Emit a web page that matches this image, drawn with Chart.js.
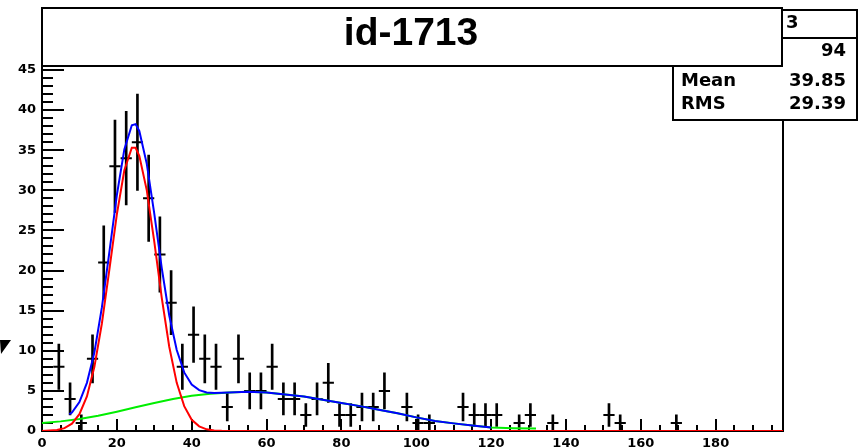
<!DOCTYPE html>
<html>
<head>
<meta charset="utf-8">
<title>id-1713</title>
<script src="https://cdn.jsdelivr.net/npm/chart.js@4.4.1/dist/chart.umd.min.js"></script>
<style>
    html, body { margin: 0; padding: 0; background: #fff; }
    #wrap { position: relative; width: 863px; height: 448px; }
</style>
</head>
<body>
<div id="wrap"><canvas id="histChart" width="863" height="448"></canvas></div>
<script>
// histogram: bin centres (bins are 3 wide) and counts, empty bins left out
const binCenters = [4.5, 7.5, 10.5, 13.5, 16.5, 19.5, 22.5, 25.5, 28.5, 31.5, 34.5, 37.5, 40.5,
    43.5, 46.5, 49.5, 52.5, 55.5, 58.5, 61.5, 64.5, 67.5, 70.5, 73.5, 76.5, 79.5, 82.5, 85.5,
    88.5, 91.5, 97.5, 100.5, 103.5, 112.5, 115.5, 118.5, 121.5, 127.5, 130.5, 136.5, 151.5,
    154.5, 169.5];
const binCounts = [8, 4, 1, 9, 21, 33, 34, 36, 29, 22, 16, 8, 12,
    9, 8, 3, 9, 5, 5, 8, 4, 4, 2, 4, 6, 2, 2, 3,
    3, 5, 3, 1, 1, 3, 2, 2, 2, 1, 2, 1, 2,
    1, 1];
const binWidth = 3;

// fitted curves
const gausX = [0, 4, 6, 8, 10, 12, 14, 16, 18, 20, 22, 24, 25, 26, 28, 30, 32, 34, 36, 38, 40, 42, 44, 46, 48, 198];
const gausY = [0.01, 0.12, 0.36, 0.91, 2.1, 4.3, 8.0, 13.4, 20.1, 27.0, 32.5, 35.3, 35.3, 34.3, 30.0, 23.6, 16.6, 10.5, 6.0, 3.1, 1.4, 0.58, 0.21, 0.07, 0.02, 0];

const bkgX = [0, 5, 10, 15, 20, 25, 30, 35, 40, 45, 50, 55, 60, 65, 70, 75, 80, 85, 90, 95, 100, 105, 110, 115, 120, 126, 132];
const bkgY = [1.0, 1.2, 1.5, 1.9, 2.4, 2.95, 3.5, 4.0, 4.4, 4.65, 4.8, 4.9, 4.8, 4.55, 4.3, 3.9, 3.5, 3.1, 2.65, 2.2, 1.7, 1.25, 0.95, 0.7, 0.45, 0.35, 0.3];

const totalX = [7.3, 8, 10, 12, 14, 16, 18, 20, 22, 24, 25, 26, 28, 30, 32, 34, 36, 38, 40, 42, 44, 46,
    50, 55, 60, 65, 70, 75, 80, 85, 90, 95, 100, 105, 110, 115, 120];
const totalY = [2.1, 2.3, 3.6, 6.0, 9.8, 15.4, 22.3, 29.4, 35.1, 38.1, 38.25, 37.4, 33.3, 27.1, 20.3, 14.4, 10.1, 7.3, 5.8, 5.1, 4.8, 4.75,
    4.8, 4.9, 4.8, 4.55, 4.3, 3.9, 3.5, 3.1, 2.65, 2.2, 1.7, 1.25, 0.95, 0.7, 0.45];

// axis labels
const xTickValues = [0, 20, 40, 60, 80, 100, 120, 140, 160, 180];
const yTickValues = [0, 5, 10, 15, 20, 25, 30, 35, 40, 45];

// title and stats box text
const histTitle = 'id-1713';
const statsName = '3';
const statsRows = [['', '94'], ['Mean', '39.85'], ['RMS', '29.39']];

function toPoints(xs, ys) {
    return xs.map((x, i) => ({ x: x, y: ys[i] }));
}

// frame and inward ticks, like the ROOT canvas
const rootFrame = {
    id: 'rootFrame',
    beforeDatasetsDraw(chart) {
        const { ctx, chartArea: a, scales: { x, y } } = chart;
        ctx.save();
        ctx.strokeStyle = '#000';
        ctx.lineWidth = 2;
        ctx.strokeRect(a.left, a.top, a.right - a.left, a.bottom - a.top);
        ctx.beginPath();
        for (let v = 0; v <= y.max; v++) {
            const py = Math.round(y.getPixelForValue(v));
            const len = v % 5 === 0 ? 22 : 11;
            ctx.moveTo(a.left, py);
            ctx.lineTo(a.left + len, py);
        }
        for (let v = 0; v < x.max; v += 5) {
            const px = Math.round(x.getPixelForValue(v));
            const len = v % 20 === 0 ? 12 : 6;
            ctx.moveTo(px, a.bottom);
            ctx.lineTo(px, a.bottom - len);
        }
        ctx.stroke();
        ctx.restore();
    },
    afterDraw(chart) {
        const ctx = chart.ctx;
        ctx.save();
        ctx.strokeStyle = '#000';
        ctx.lineWidth = 2;

        // stats box
        ctx.fillStyle = '#fff';
        ctx.fillRect(673, 10, 184, 110);
        ctx.strokeRect(673, 10, 184, 110);
        ctx.beginPath();
        ctx.moveTo(673, 38);
        ctx.lineTo(857, 38);
        ctx.stroke();
        ctx.fillStyle = '#000';
        ctx.font = 'bold 18px "DejaVu Sans"';
        ctx.textBaseline = 'alphabetic';
        ctx.textAlign = 'left';
        ctx.fillText(statsName, 786, 28);
        const rowY = [56, 86, 109];
        statsRows.forEach((row, i) => {
            ctx.textAlign = 'left';
            ctx.fillText(row[0], 681, rowY[i]);
            ctx.textAlign = 'right';
            ctx.fillText(row[1], 846, rowY[i]);
        });

        // title box
        ctx.fillStyle = '#fff';
        ctx.fillRect(42, 8, 740, 58);
        ctx.strokeRect(42, 8, 740, 58);
        ctx.fillStyle = '#000';
        ctx.font = 'bold 39px "Liberation Sans"';
        ctx.textAlign = 'center';
        ctx.fillText(histTitle, 411, 45);

        // stray marker at the left edge
        ctx.beginPath();
        ctx.moveTo(0, 340);
        ctx.lineTo(11, 340);
        ctx.lineTo(1, 354);
        ctx.closePath();
        ctx.fill();
        ctx.restore();
    }
};

const tickFont = { family: 'DejaVu Sans', weight: 'bold', size: 13 };

new Chart(document.getElementById('histChart'), {
    type: 'scatter',
    data: {
        datasets: [
            {
                type: 'line',
                label: 'gaus',
                data: toPoints(gausX, gausY),
                borderColor: '#ff0000',
                borderWidth: 2,
                pointRadius: 0,
                tension: 0
            },
            {
                type: 'line',
                label: 'total',
                data: toPoints(totalX, totalY),
                borderColor: '#0000ff',
                borderWidth: 2,
                pointRadius: 0,
                tension: 0
            },
            {
                type: 'line',
                label: 'background',
                data: toPoints(bkgX, bkgY),
                borderColor: '#00ee00',
                borderWidth: 2,
                pointRadius: 0,
                tension: 0
            },
            {
                label: 'bin width',
                data: toPoints(binCenters, binCounts),
                pointStyle: 'line',
                borderColor: '#000',
                borderWidth: 2,
                radius: function(c) {
                    const sx = c.chart.scales.x;
                    return (sx.getPixelForValue(binWidth) - sx.getPixelForValue(0)) / 2;
                }
            },
            {
                type: 'bar',
                label: 'errors',
                data: binCenters.map((c, i) => {
                    const e = Math.sqrt(binCounts[i]);
                    return { x: c, y: [binCounts[i] - e, binCounts[i] + e] };
                }),
                backgroundColor: '#000',
                borderWidth: 0,
                barThickness: 2
            }
        ]
    },
    options: {
        responsive: false,
        animation: false,
        events: [],
        layout: { padding: { top: 8, right: 80, bottom: 0, left: 0 } },
        plugins: {
            legend: { display: false },
            tooltip: { enabled: false }
        },
        scales: {
            x: {
                type: 'linear',
                min: 0,
                max: 198,
                offset: false,
                grid: { display: false, drawTicks: false },
                border: { display: false },
                ticks: { font: tickFont, color: '#000', padding: 5, maxRotation: 0, autoSkip: false },
                afterBuildTicks: s => { s.ticks = xTickValues.map(v => ({ value: v })); },
                afterFit: s => { s.height = 17; }
            },
            y: {
                type: 'linear',
                min: 0,
                max: 52,
                grid: { display: false, drawTicks: false },
                border: { display: false },
                ticks: { font: tickFont, color: '#000', padding: 6, autoSkip: false },
                afterBuildTicks: s => { s.ticks = yTickValues.map(v => ({ value: v })); },
                afterFit: s => { s.width = 42; }
            }
        }
    },
    plugins: [rootFrame]
});
</script>
</body>
</html>
